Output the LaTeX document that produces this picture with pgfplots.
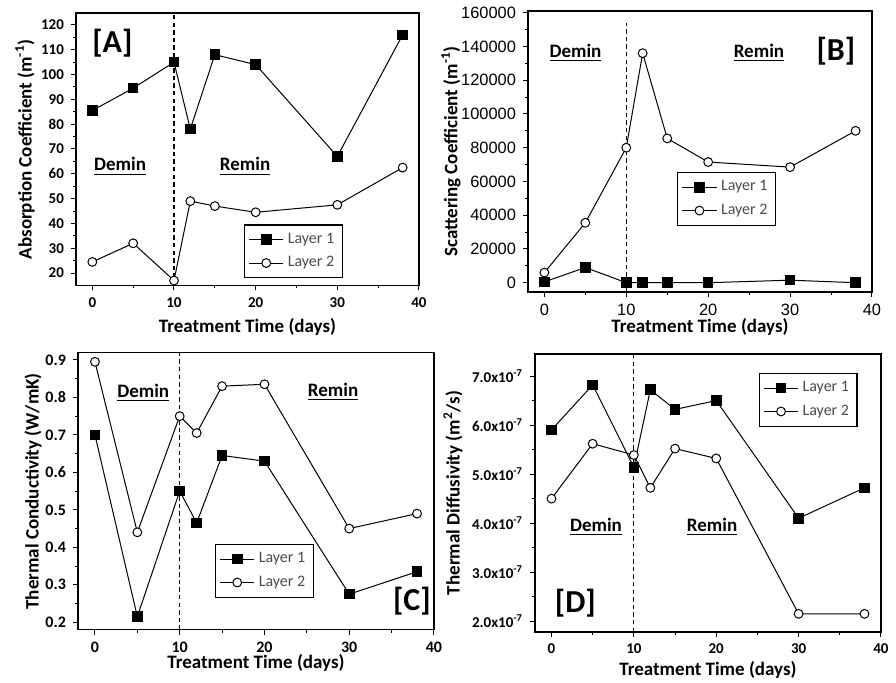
\documentclass[border=0pt]{standalone}
\usepackage{fontspec}
\setmainfont{Carlito}
\newfontfamily\arialf{Liberation Sans}
\usepackage{pgfplots}
\pgfplotsset{compat=1.18}
\tikzset{
 ann/.style={font=\fontsize{9.5}{11}\selectfont\bfseries},
 big/.style={font=\fontsize{16}{18}\selectfont\bfseries},
}
\pgfplotsset{
 panel/.style={scale only axis, xmin=-2, xmax=40, xtick={0,10,20,30,40}, minor x tick num=1, minor y tick num=1,
  tick align=outside, xtick pos=bottom, ytick pos=left, major tick length=2.5pt, minor tick length=1.5pt,
  axis line style={line width=0.6pt}, every tick/.style={black, line width=0.5pt},
  xlabel={Treatment Time (days)},
  label style={font=\fontsize{9.5}{11}\selectfont\bfseries},
  tick label style={font=\fontsize{7.5}{9}\selectfont\bfseries},
  /pgf/number format/assume math mode=true,
  legend style={draw=black, line width=0.6pt, font=\fontsize{8}{9.5}\selectfont, text=black!70, anchor=north west, inner sep=2pt, row sep=1pt, cells={anchor=west}},
  legend cell align=left},
 l1/.style={black, line width=0.5pt, mark=square*, mark size=2.4pt, mark options={solid,fill=black}},
 l2/.style={black, line width=0.5pt, mark=*, mark size=2.2pt, mark options={solid,fill=white}},
 dl/.style={black, dashed, dash pattern=on 2.2pt off 1.6pt, line width=0.6pt, forget plot},
}
\begin{document}
\begin{tikzpicture}
\useasboundingbox (0,0) rectangle (448pt,-341.5pt);
% Panel A
\begin{axis}[panel, at={(38pt,-6.5pt)}, anchor=north west, width=171.5pt, height=136.25pt,
  ymin=15, ymax=124.8, ytick={20,30,...,120},
  ylabel={Absorption Coefficient (m\textsuperscript{-1})},
  ylabel style={at={(axis description cs:-0.149,0.5)}, anchor=center},
  xlabel style={at={(axis description cs:0.5,-0.151)}, anchor=center},
  legend style={at={(0.49,0.224)}}]
\addplot[dl] coordinates {(10,15) (10,124.8)};
\addplot[l1] coordinates {(0,85.5) (5,94.5) (10,105) (12,78) (15,108) (20,104) (30,67) (38,116)};
\addplot[l2] coordinates {(0,24.5) (5,32) (10,17) (12,49) (15,47) (20,44.5) (30,47.5) (38,62.5)};
\legend{Layer 1, Layer 2}
\node[big] at (axis cs:2.45,112.7) {[A]};
\node[ann] at (axis cs:3.4,63) {\underline{Demin}};
\node[ann] at (axis cs:18.7,63) {\underline{Remin}};
\end{axis}
% Panel B
\begin{axis}[panel, at={(264pt,-5.5pt)}, anchor=north west, width=172pt, height=140.5pt,
  ymin=-5500, ymax=161000, ytick={0,20000,...,160000}, scaled y ticks=false,
  /pgf/number format/.cd, fixed, precision=0, 1000 sep={}, /pgfplots/.cd,
  tick label style={font=\fontsize{8.2}{10}\selectfont\arialf},
  ylabel={Scattering Coefficient (m\textsuperscript{-1})},
  ylabel style={at={(axis description cs:-0.224,0.5)}, anchor=center},
  xlabel style={at={(axis description cs:0.5,-0.125)}, anchor=center},
  legend style={at={(0.434,0.427)}}]
\addplot[dl] coordinates {(10,-5500) (10,154000)};
\addplot[l1] coordinates {(0,500) (5,9000) (10,0) (12,0) (15,0) (20,0) (30,1500) (38,0)};
\addplot[l2] coordinates {(0,6000) (5,35500) (10,80000) (12,136000) (15,85500) (20,71500) (30,68500) (38,90000)};
\legend{Layer 1, Layer 2}
\node[big] at (axis cs:35.6,137000) {[B]};
\node[ann] at (axis cs:3.8,135900) {\underline{Demin}};
\node[ann] at (axis cs:26.2,135900) {\underline{Remin}};
\end{axis}
% Panel C
\begin{axis}[panel, at={(39pt,-176.4pt)}, anchor=north west, width=178pt, height=138.5pt,
  ymin=0.18, ymax=0.919, ytick={0.2,0.3,...,0.9},
  /pgf/number format/.cd, fixed, precision=1, /pgfplots/.cd,
  tick label style={font=\fontsize{8}{10}\selectfont\bfseries},
  ylabel={Thermal Conductivity (W/mK)},
  ylabel style={at={(axis description cs:-0.126,0.5)}, anchor=center},
  xlabel style={at={(axis description cs:0.5,-0.119)}, anchor=center},
  legend style={at={(0.385,0.31)}}]
\addplot[dl] coordinates {(10,0.18) (10,0.919)};
\addplot[l1] coordinates {(0,0.70) (5,0.215) (10,0.55) (12,0.465) (15,0.645) (20,0.63) (30,0.275) (38,0.335)};
\addplot[l2] coordinates {(0,0.895) (5,0.44) (10,0.75) (12,0.705) (15,0.83) (20,0.835) (30,0.45) (38,0.49)};
\legend{Layer 1, Layer 2}
\node[big] at (axis cs:37.4,0.255) {[C]};
\node[ann] at (axis cs:5.7,0.812) {\underline{Demin}};
\node[ann] at (axis cs:28.1,0.815) {\underline{Remin}};
\end{axis}
% Panel D
\begin{axis}[panel, at={(267.5pt,-177pt)}, anchor=north west, width=173pt, height=139pt,
  ymin=1.78e-7, ymax=7.45e-7, ytick={2e-7,3e-7,4e-7,5e-7,6e-7,7e-7}, scaled y ticks=false,
  yticklabels={2.0x10\textsuperscript{-7},3.0x10\textsuperscript{-7},4.0x10\textsuperscript{-7},5.0x10\textsuperscript{-7},6.0x10\textsuperscript{-7},7.0x10\textsuperscript{-7}},
  ylabel={Thermal Diffusivity (m\textsuperscript{2}/s)},
  ylabel style={at={(axis description cs:-0.237,0.5)}, anchor=center},
  xlabel style={at={(axis description cs:0.5,-0.137)}, anchor=center},
  legend style={at={(0.647,0.932)}}]
\addplot[dl] coordinates {(10,1.78e-7) (10,7.45e-7)};
\addplot[l1] coordinates {(0,5.9e-7) (5,6.82e-7) (10,5.14e-7) (12,6.72e-7) (15,6.32e-7) (20,6.5e-7) (30,4.1e-7) (38,4.72e-7)};
\addplot[l2] coordinates {(0,4.5e-7) (5,5.62e-7) (10,5.39e-7) (12,4.72e-7) (15,5.52e-7) (20,5.32e-7) (30,2.15e-7) (38,2.15e-7)};
\legend{Layer 1, Layer 2}
\node[big] at (axis cs:2.9,2.37e-7) {[D]};
\node[ann] at (axis cs:5.4,3.92e-7) {\underline{Demin}};
\node[ann] at (axis cs:19.5,3.92e-7) {\underline{Remin}};
\end{axis}
\end{tikzpicture}
\end{document}
